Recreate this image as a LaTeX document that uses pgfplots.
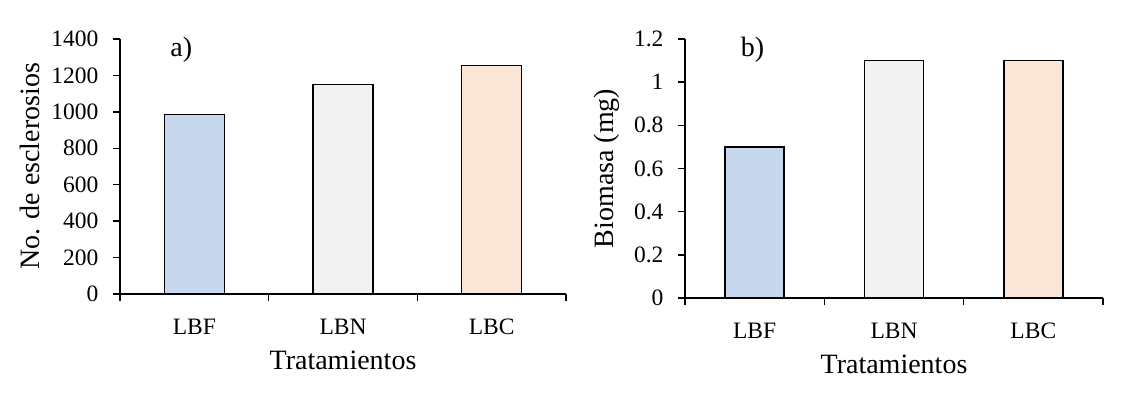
\documentclass[border=0pt]{standalone}
\usepackage{pgfplots}
\pgfplotsset{compat=1.18}
\usepackage{fontspec}
\setmainfont{Liberation Serif}
\definecolor{cBlue}{HTML}{C6D7EE}
\definecolor{cGrey}{HTML}{F2F2F2}
\definecolor{cPeach}{HTML}{FBE5D6}
\pgfplotsset{
  common/.style={
    scale only axis,
    axis lines*=left,
    axis line style={line width=1.5pt},
    every tick/.style={line width=1.5pt, black},
    tick align=outside,
    major tick length=7pt,
    xmin=-0.5, xmax=2.5,
    xtick={-0.5,0.5,1.5,2.5},
    xticklabels={LBF,LBN,LBC},
    x tick label as interval,
    ymin=0,
    tick label style={font=\fontsize{23.5}{25}\selectfont},
    yticklabel style={xshift=-11pt},
    xticklabel style={anchor=base, yshift=-34pt},
    label style={font=\fontsize{28}{30}\selectfont},
    xlabel style={at={(axis description cs:0.5,0)}, anchor=base, yshift=-76pt},
    /pgf/number format/assume math mode=true,
    /pgf/number format/1000 sep={},
    scaled y ticks=false,
    xlabel={Tratamientos},
    ybar, bar shift=0pt,
    clip=false,
  }
}
\begin{document}
\begin{tikzpicture}
\useasboundingbox (0pt,0pt) rectangle (1141pt,395pt);
\begin{axis}[common, at={(120pt,101pt)}, anchor=south west, width=446pt, height=255pt,
  ymax=1400, ytick={0,200,...,1400},
  bar width=60pt,
  ylabel={No. de esclerosios},
  ylabel style={at={(axis description cs:-0.202,0.5)}, anchor=center},
  ]
\addplot[draw=black, line width=1.6pt, fill=cBlue] coordinates {(0,985)};
\addplot[draw=black, line width=1.6pt, fill=cGrey] coordinates {(1,1150)};
\addplot[draw=black, line width=1.6pt, fill=cPeach] coordinates {(2,1255)};
\node[font=\fontsize{28}{30}\selectfont, anchor=west] at (axis description cs:0.105,0.957) {a)};
\end{axis}
\begin{axis}[common, at={(685pt,97pt)}, anchor=south west, width=418pt, height=259pt,
  ymax=1.2, ytick={0,0.2,...,1.2},
  yticklabels={0,0.2,0.4,0.6,0.8,1,1.2},
  bar width=59pt,
  ylabel={Biomasa (mg)},
  ylabel style={at={(axis description cs:-0.187,0.5)}, anchor=center},
  ]
\addplot[draw=black, line width=1.6pt, fill=cBlue] coordinates {(0,0.70)};
\addplot[draw=black, line width=1.6pt, fill=cGrey] coordinates {(1,1.10)};
\addplot[draw=black, line width=1.6pt, fill=cPeach] coordinates {(2,1.10)};
\node[font=\fontsize{28}{30}\selectfont, anchor=west] at (axis description cs:0.125,0.957) {b)};
\end{axis}
\end{tikzpicture}
\end{document}
